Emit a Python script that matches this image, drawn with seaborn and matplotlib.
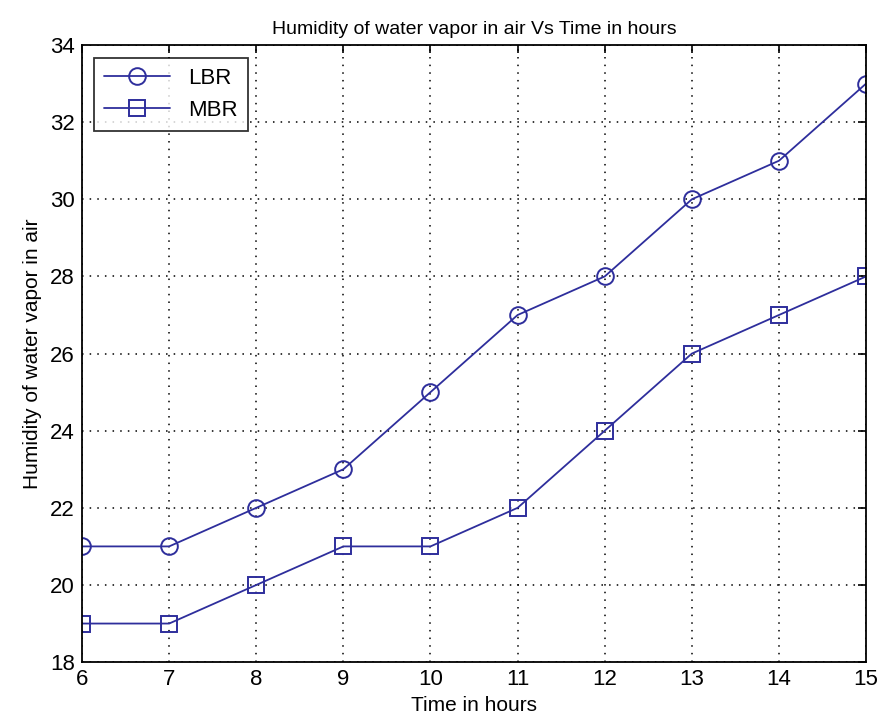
import matplotlib.pyplot as plt
import seaborn as sns
import pandas as pd

sns.set_style("white")
plt.rcParams['font.family'] = ['Liberation Sans', 'DejaVu Sans']
plt.rcParams['text.color'] = 'black'
plt.rcParams['axes.labelcolor'] = 'black'
plt.rcParams['xtick.color'] = 'black'
plt.rcParams['ytick.color'] = 'black'

hours = [6, 7, 8, 9, 10, 11, 12, 13, 14, 15]
lbr = [21, 21, 22, 23, 25, 27, 28, 30, 31, 33]
mbr = [19, 19, 20, 21, 21, 22, 24, 26, 27, 28]

df = pd.DataFrame({
    "hour": hours * 2,
    "value": lbr + mbr,
    "series": ["LBR"] * len(hours) + ["MBR"] * len(hours),
})

line_color = "#2e2e9c"

fig = plt.figure(figsize=(8.8, 7.26), dpi=100)
ax = fig.add_axes([0.0932, 0.088, 0.891, 0.85])

sns.lineplot(
    data=df, x="hour", y="value", style="series",
    markers={"LBR": "o", "MBR": "s"}, dashes=False,
    color=line_color, markersize=12, markerfacecolor="none",
    markeredgecolor=line_color, markeredgewidth=1.4, linewidth=1.3,
    ax=ax,
)

ax.set_xlim(6, 15)
ax.set_ylim(18, 34)
ax.set_xticks(range(6, 16))
ax.set_yticks(range(18, 35, 2))
ax.grid(True, linestyle=(0, (1, 4)), color="black", linewidth=1.1)
ax.tick_params(direction="in", top=True, right=True, labelsize=16, length=6, width=1.2, pad=5)
for s in ax.spines.values():
    s.set_color("black")
    s.set_linewidth(1.3)

ax.set_title("Humidity of water vapor in air Vs Time in hours", fontsize=14, pad=8)
ax.set_xlabel("Time in hours", fontsize=15, labelpad=4)
ax.set_ylabel("Humidity of water vapor in air", fontsize=15, labelpad=6)

leg = ax.legend(loc="upper left", fontsize=16, frameon=True, fancybox=False,
                borderpad=0.45, handlelength=3.0, labelspacing=0.5,
                borderaxespad=0, bbox_to_anchor=(0.015, 0.979))
leg.get_frame().set_edgecolor("black")
leg.get_frame().set_linewidth(1.3)

fig.savefig("out.png", dpi=100)
